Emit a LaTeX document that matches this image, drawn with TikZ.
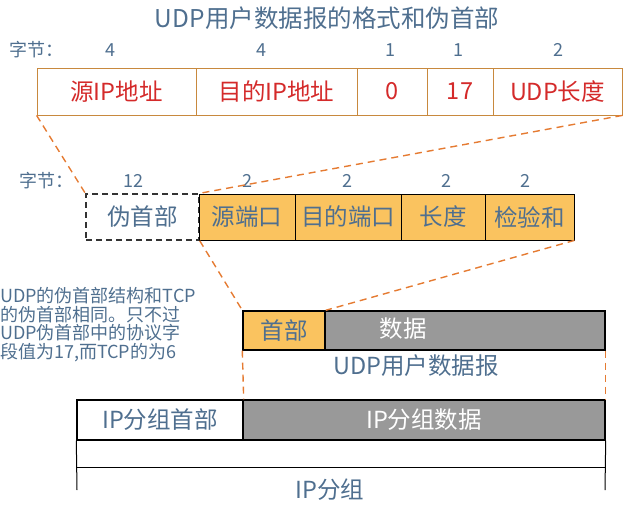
\documentclass[tikz,border=0pt]{standalone}
\usepackage{fontspec}
\setmainfont{Noto Sans CJK SC}
\usetikzlibrary{calc}

\definecolor{titleblue}{HTML}{4F6F8F}
\definecolor{fieldred}{HTML}{D42A2A}
\definecolor{boxbrown}{HTML}{C8893E}
\definecolor{hdrorange}{HTML}{FAC35F}
\definecolor{datagray}{HTML}{999999}
\definecolor{cutorange}{HTML}{E57B32}

\begin{document}
\begin{tikzpicture}[x=1pt,y=-1pt,
  big/.style={font=\fontsize{23.5}{26}\selectfont},
  small/.style={font=\fontsize{18}{20}\selectfont,text=titleblue},
  pfield/.style={big,draw=boxbrown,line width=0.8pt,text=fieldred,minimum height=47pt,inner sep=0pt},
  ufield/.style={big,draw=black,line width=0.8pt,fill=hdrorange,text=titleblue,minimum height=46pt,inner sep=0pt},
  cut/.style={draw=cutorange,line width=1.4pt,dash pattern=on 7pt off 5pt}]
  \useasboundingbox (0,0) rectangle (635,509);

  % title and byte counts
  \node[text=titleblue,font=\fontsize{24.5}{27}\selectfont] (title) at (327,18) {UDP用户数据报的格式和伪首部};
  \node[small,anchor=west] (bytesA) at (6,50) {字节：};
  \foreach \x/\v in {110/4,261/4,390/1,458/1,558/2}
    \node[small] at (\x,50) {\v};
  \node[small,anchor=west] (bytesB) at (16,181) {字节：};
  \foreach \x/\v in {133/12,247/2,347/2,446/2,525/2}
    \node[small] at (\x,181) {\v};

  % pseudo header
  \foreach \n/\c/\w/\t in {srcip/116.5/159/源IP地址,dstip/276.5/161/目的IP地址,
      zero/392/70/0,proto/460/66/17,udplen/557.5/129/UDP长度}
    \node[pfield,minimum width=\w pt] (\n) at (\c,91.5) {\t};

  % UDP header with pseudo header
  \node[big,draw=black!80,dash pattern=on 6pt off 4pt,line width=1.4pt,text=titleblue,minimum width=113pt,minimum height=46pt,inner sep=0pt] (pseudo) at (142.5,217) {伪首部};
  \foreach \n/\c/\w/\t in {sport/247/96/源端口,dport/348/106/目的端口,
      ulen/443/84/长度,chk/529.5/89/检验和}
    \node[ufield,minimum width=\w pt] (\n) at (\c,217) {\t};

  % UDP datagram
  \node[ufield,line width=1.4pt,minimum width=82pt,minimum height=39pt] (udphdr) at (284,330.5) {首部};
  \node[draw=black,line width=1.4pt,fill=datagray,minimum width=280pt,minimum height=39pt] (udpdata) at (465,330.5) {};
  \node[big,text=white] (udptxt) at (403,329) {数据};
  \node[big,text=titleblue] (udplbl) at (416,366) {UDP用户数据报};

  % IP packet
  \node[big,draw=black,line width=1.4pt,text=titleblue,minimum width=166pt,minimum height=40pt,inner sep=0pt] (iphdr) at (160,420) {IP分组首部};
  \node[big,draw=black,line width=1.4pt,fill=datagray,text=white,minimum width=362pt,minimum height=40pt,inner sep=0pt] (ipdata) at (424,420) {IP分组数据};
  \coordinate (lowL) at (77,490); \coordinate (lowR) at (605,490);
  \coordinate (midL) at (77,467); \coordinate (midR) at (605,467);
  \draw[line width=1pt] (iphdr.south west) -- (lowL);
  \draw[line width=1pt] (ipdata.south east) -- (lowR);
  \draw[line width=1pt] (midL) -- (midR);
  \node[big,text=titleblue] (iplbl) at (330,490) {IP分组};

  % cut lines
  \draw[cut] (srcip.south west) -- (pseudo.north west);
  \draw[cut] (udplen.south east) -- (pseudo.north east);
  \draw[cut] (pseudo.south east) -- (udphdr.north west);
  \draw[cut] (chk.south east) -- (udphdr.north east);
  \draw[cut] (udphdr.south west) -- (iphdr.north east);
  \draw[cut] (udpdata.south east) -- (ipdata.north east);

  % note
  \node[anchor=north west,align=left,inner sep=0pt,text=titleblue,
    font=\fontsize{18}{18.7}\selectfont] (note) at (0,287)
    {UDP的伪首部结构和TCP\\的伪首部相同。只不过\\UDP伪首部中的协议字\\段值为17,而TCP的为6};
\end{tikzpicture}
\end{document}
